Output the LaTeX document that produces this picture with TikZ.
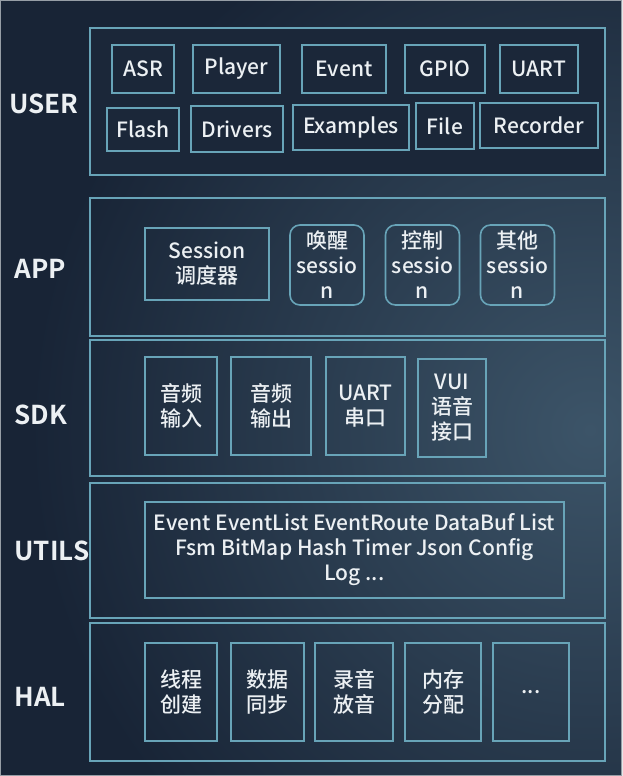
\documentclass[tikz,border=0pt]{standalone}
\usepackage{fontspec}
\setmainfont{Noto Sans CJK SC}[UprightFont={Noto Sans CJK SC Medium}, BoldFont={Noto Sans CJK SC Bold}]
\usepackage{tikz}
\usetikzlibrary{positioning}
\definecolor{navy}{RGB}{24,36,54}
\definecolor{navyin}{RGB}{60,84,104}
\definecolor{panelfill}{RGB}{27,39,57}
\definecolor{teal}{RGB}{104,164,184}
\definecolor{txt}{RGB}{236,240,243}
\definecolor{edge}{RGB}{150,158,166}

\begin{document}
\begin{tikzpicture}[
  x=1pt, y=-1pt,
  font=\fontsize{21}{25}\selectfont, text=txt,
  panel/.style={draw=teal, line width=2pt, minimum width=515pt, inner sep=0pt},
  box/.style={draw=teal, line width=1.6pt, inner sep=0pt, align=center},
  rbox/.style={box, rounded corners=10pt, minimum width=74pt, minimum height=80pt},
  layer/.style={anchor=west, font=\fontsize{26}{30}\selectfont\bfseries}
]
\useasboundingbox (0,0) rectangle (622,776);
\begin{scope}
  \clip (0,0) rectangle (622,776);
  \fill[navy] (0,0) rectangle (622,776);
  \shade[inner color=navyin, outer color=navy] (590,430) circle (560);
\end{scope}
\draw[edge, line width=1pt] (0.5,0.5) rectangle (621.5,775.5);

\node[panel, fill=panelfill, minimum height=147pt] (user) at (347.5,101.5) {};
\node[panel, minimum height=138pt] (app) at (347.5,267) {};
\node[panel, minimum height=136pt] (sdk) at (347.5,408) {};
\node[panel, minimum height=135pt] (utils) at (347.5,550.5) {};
\node[panel, minimum height=138pt] (hal) at (347.5,692) {};

\node[layer] (luser) at (6,104) {USER};
\node[layer] (lapp) at (11,269) {APP};
\node[layer] (lsdk) at (11,415) {SDK};
\node[layer] (lutils) at (11,551) {UTILS};
\node[layer] (lhal) at (11,697) {HAL};

\node[box, minimum width=62pt, minimum height=48pt] (asr) at (143,69) {ASR};
\node[box, minimum width=87pt, minimum height=48pt] (player) at (236.5,69) {Player};
\node[box, minimum width=84pt, minimum height=48pt] (event) at (344,69) {Event};
\node[box, minimum width=80pt, minimum height=48pt] (gpio) at (445,69) {GPIO};
\node[box, minimum width=78pt, minimum height=48pt] (uart) at (539,69) {UART};
\node[box, minimum width=72pt, minimum height=43pt] (flash) at (143,129.5) {Flash};
\node[box, minimum width=92pt, minimum height=46pt] (drivers) at (237,129) {Drivers};
\node[box, minimum width=116pt, minimum height=45pt] (examples) at (351,127.5) {Examples};
\node[box, minimum width=58pt, minimum height=46pt] (file) at (445,126) {File};
\node[box, minimum width=118pt, minimum height=45pt] (recorder) at (539,125.5) {Recorder};

\node[box, minimum width=124pt, minimum height=72pt] (sched) at (207,264) {Session\\调度器};
\node[rbox] (wake) at (327,265) {唤醒\\sessio\\n};
\node[rbox] (ctrl) at (422.5,265) {控制\\sessio\\n};
\node[rbox] (other) at (517.5,265) {其他\\sessio\\n};

\node[box, minimum width=72pt, minimum height=98pt] (ain) at (181,406) {音频\\输入};
\node[box, minimum width=80pt, minimum height=98pt] (aout) at (271,406) {音频\\输出};
\node[box, minimum width=79pt, minimum height=98pt] (serial) at (365.5,406) {UART\\串口};
\node[box, minimum width=68pt, minimum height=98pt] (vui) at (452,408) {VUI\\语音\\接口};

\node[box, minimum width=419pt, minimum height=96pt] (libs) at (354.5,550)
  {Event EventList EventRoute DataBuf List\\Fsm BitMap Hash Timer Json Config\\Log ...};

\node[box, minimum width=72pt, minimum height=98pt] (thread) at (181,692) {线程\\创建};
\node[box, minimum width=73pt, minimum height=98pt] (sync) at (267.5,692) {数据\\同步};
\node[box, minimum width=78pt, minimum height=98pt] (audio) at (354,692) {录音\\放音};
\node[box, minimum width=76pt, minimum height=98pt] (mem) at (443,692) {内存\\分配};
\node[box, minimum width=76pt, minimum height=98pt] (more) at (531,692) {...};
\end{tikzpicture}
\end{document}
